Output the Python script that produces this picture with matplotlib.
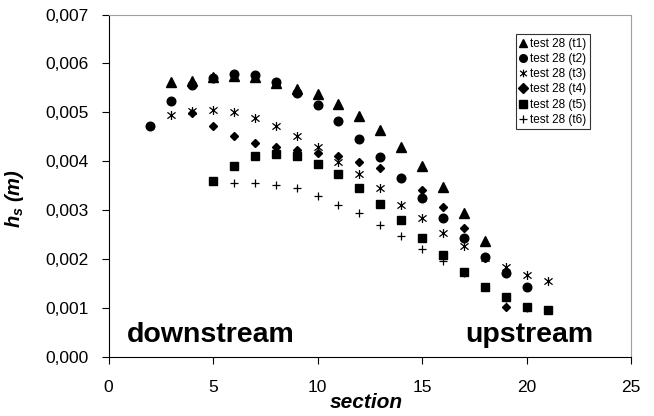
import matplotlib
matplotlib.use("Agg")
import matplotlib.pyplot as plt
import matplotlib.ticker as ticker
from matplotlib.path import Path

plt.rcParams['font.family'] = ['Liberation Sans', 'DejaVu Sans']
plt.rcParams['mathtext.fontset'] = 'custom'
plt.rcParams['mathtext.it'] = 'Liberation Sans:bold:italic'
plt.rcParams['mathtext.rm'] = 'Liberation Sans:bold:italic'

# data (h_s in mm, divided by 1000 when plotted)
sec_t1 = list(range(3, 19))
hs_t1 = [5.61, 5.64, 5.72, 5.75, 5.72, 5.60, 5.47, 5.37, 5.17, 4.92, 4.63, 4.29, 3.90, 3.46, 2.94, 2.37]
sec_t2 = list(range(2, 21))
hs_t2 = [4.71, 5.24, 5.55, 5.71, 5.79, 5.76, 5.61, 5.40, 5.15, 4.82, 4.46, 4.08, 3.66, 3.24, 2.83, 2.42, 2.04, 1.70, 1.43]
sec_t3 = list(range(3, 22))
hs_t3 = [4.95, 5.02, 5.04, 5.00, 4.88, 4.71, 4.51, 4.29, 3.99, 3.73, 3.44, 3.11, 2.83, 2.52, 2.26, 2.02, 1.84, 1.67, 1.55]
sec_t4 = list(range(4, 20))
hs_t4 = [4.99, 4.72, 4.51, 4.38, 4.29, 4.22, 4.17, 4.10, 3.99, 3.85, 3.65, 3.41, 3.07, 2.63, 2.02, 1.01]
sec_t5 = list(range(5, 22))
hs_t5 = [3.59, 3.91, 4.10, 4.14, 4.10, 3.95, 3.73, 3.45, 3.13, 2.80, 2.42, 2.07, 1.74, 1.43, 1.21, 1.02, 0.95]
sec_t6 = list(range(6, 21))
hs_t6 = [3.56, 3.56, 3.52, 3.44, 3.28, 3.11, 2.93, 2.70, 2.47, 2.21, 1.96, 1.71, 1.42, 1.19, 0.99]
labels = ['test 28 (t1)', 'test 28 (t2)', 'test 28 (t3)', 'test 28 (t4)', 'test 28 (t5)', 'test 28 (t6)']

# excel style star: x with a vertical bar
star = Path([(0, -1), (0, 1), (-0.9, -0.7), (0.9, 0.7), (-0.9, 0.7), (0.9, -0.7)],
            [Path.MOVETO, Path.LINETO] * 3)

fig = plt.figure(figsize=(6.54, 4.16), dpi=100)
ax = fig.add_axes([0.166, 0.143, 0.799, 0.822])

ax.plot(sec_t1, [v / 1000 for v in hs_t1], ls='none', marker='^', ms=6.5, color='k', label=labels[0])
ax.plot(sec_t2, [v / 1000 for v in hs_t2], ls='none', marker='o', ms=6.2, color='k', label=labels[1])
ax.plot(sec_t3, [v / 1000 for v in hs_t3], ls='none', marker=star, ms=6.5, mew=0.9, color='k', mfc='none', label=labels[2])
ax.plot(sec_t4, [v / 1000 for v in hs_t4], ls='none', marker='D', ms=4.5, color='k', label=labels[3])
ax.plot(sec_t5, [v / 1000 for v in hs_t5], ls='none', marker='s', ms=5.8, color='k', label=labels[4])
ax.plot(sec_t6, [v / 1000 for v in hs_t6], ls='none', marker='+', ms=6, mew=0.9, color='k', label=labels[5])

ax.set_xlim(0, 25)
ax.set_ylim(0, 0.007)
ax.xaxis.set_major_locator(ticker.MultipleLocator(5))
ax.yaxis.set_major_locator(ticker.MultipleLocator(0.001))
ax.yaxis.set_major_formatter(ticker.FuncFormatter(lambda v, p: ('%.3f' % v).replace('.', ',')))
ax.tick_params(direction='out', length=5, width=0.8, labelsize=12.5, colors='k')
ax.tick_params(axis='x', pad=12)
ax.tick_params(axis='y', pad=9)

ax.spines['top'].set_color('#a0a0a0')
ax.spines['right'].set_color('#a0a0a0')

ax.set_xlabel('section', fontsize=15, fontweight='bold', fontstyle='italic')
ax.xaxis.set_label_coords(0.494, -0.108)
ax.set_ylabel(r'$h_s$ (m)', fontsize=14.5, fontweight='bold', fontstyle='italic')
ax.yaxis.set_label_coords(-0.158, 0.463)

ax.text(0.87, 0.0003, 'downstream', fontsize=20.5, fontweight='bold', ha='left', va='baseline')
ax.text(23.2, 0.0003, 'upstream', fontsize=20.5, fontweight='bold', ha='right', va='baseline')

leg = ax.legend(loc='upper left', bbox_to_anchor=(0.779, 0.942), fontsize=8.5, frameon=True,
                fancybox=False, edgecolor='k', handlelength=0.7, handletextpad=0.25,
                borderpad=0.3, labelspacing=0.27, borderaxespad=0)
leg.get_frame().set_linewidth(0.8)
for h in leg.legend_handles:
    h.set_markersize(5.5)

fig.savefig("out.png", dpi=100)
